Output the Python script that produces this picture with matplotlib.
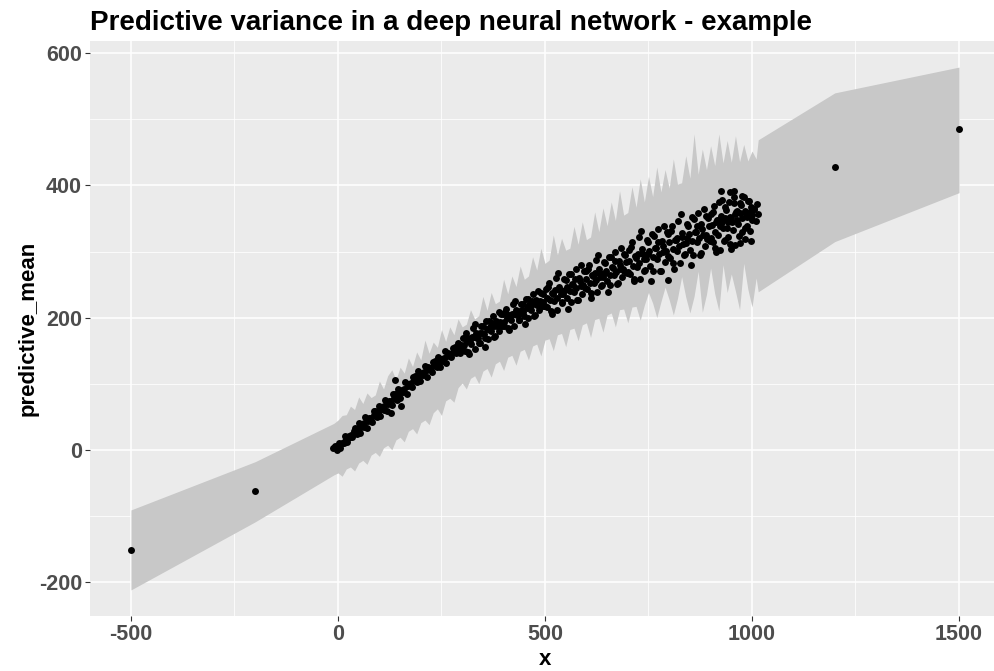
import numpy as np
import matplotlib
matplotlib.use("Agg")
import matplotlib.pyplot as plt

plt.rcParams['font.family'] = ['Liberation Sans', 'DejaVu Sans']
plt.rcParams['axes.unicode_minus'] = False

# ribbon (lower / upper bound of the prediction)
band_x = [-500, -200,
          -10, 0, 10, 20, 30, 40, 50, 60, 70, 80, 90, 100, 110, 120, 130, 140, 150, 160, 170, 180, 190,
          200, 210, 220, 230, 240, 250, 260, 270, 280, 290, 300, 310, 320, 330, 340, 350, 360, 370, 380, 390,
          400, 410, 420, 430, 440, 450, 460, 470, 480, 490, 500, 510, 520, 530, 540, 550, 560, 570, 580, 590,
          600, 610, 620, 630, 640, 650, 660, 670, 680, 690, 700, 710, 720, 730, 740, 750, 760, 770, 780, 790,
          800, 810, 820, 830, 840, 850, 860, 870, 880, 890, 900, 910, 920, 930, 940, 950, 960, 970, 980, 990,
          1000, 1010, 1015, 1200, 1500]
band_hi = [-91, -18,
           40, 45, 52, 53, 66, 61, 80, 70, 86, 79, 83, 104, 92, 112, 121, 106, 125, 116, 139, 126, 148,
           136, 166, 146, 163, 155, 182, 164, 186, 174, 198, 186, 190, 212, 198, 203, 232, 211, 238, 221, 225,
           258, 236, 263, 247, 278, 258, 263, 292, 272, 305, 282, 287, 325, 295, 320, 302, 305, 338, 311, 345,
           318, 322, 360, 330, 366, 339, 375, 347, 392, 355, 359, 398, 367, 410, 375, 414, 383, 428, 390, 424,
           396, 440, 402, 404, 445, 411, 478, 417, 455, 424, 460, 430, 478, 434, 468, 435, 475, 436, 462, 437,
           452, 440, 469, 540, 579]
band_lo = [-212, -109,
           -38, -35, -40, -29, -26, -32, -20, -16, -22, -8, -4, -10, 3, 7, 0, 15, 19, 12, 28, 32, 24,
           41, 45, 38, 56, 62, 52, 74, 78, 72, 94, 101, 92, 108, 112, 100, 119, 123, 110, 130, 134,
           120, 140, 143, 128, 149, 152, 136, 157, 160, 142, 166, 168, 150, 174, 176, 156, 182, 184, 165, 189,
           192, 170, 197, 199, 178, 204, 207, 186, 212, 213, 192, 216, 217, 196, 219, 238, 222, 200, 224, 246,
           227, 204, 229, 262, 231, 207, 232, 270, 208, 235, 275, 236, 210, 280, 238, 266, 240, 212, 282, 243,
           216, 260, 239, 315, 389]

# predictive means
x_pred = [-500, -200, 1200, 1500,
          -12, -7, -3, 2, 6, 10, 14, 18, 22, 26, 30, 34, 38, 42, 46, 50, 54, 58, 62, 66, 70, 74, 78, 82, 86,
          90, 94, 98, 102, 106, 110, 114, 118, 122, 126, 130, 134, 138, 142, 146, 150, 154, 158, 162, 166,
          170, 174, 178, 182, 186, 190, 194, 198, 202, 206, 210, 214, 218, 222, 226, 230, 234, 238, 242, 246,
          250, 254, 258, 262, 266, 270, 274, 278, 282, 286, 290, 294, 298, 128, 138, 152,
          0, 8, 16, 24, 32, 40, 48, 56, 64, 72, 80, 88, 96, 104, 112, 120, 128, 136, 144, 152, 160, 168,
          176, 184, 192, 200, 208, 216, 224, 232, 240, 248, 256, 264, 272, 280, 288, 296,
          302, 306, 310, 314, 318, 322, 326, 330, 334, 338, 342, 346, 350, 354, 358, 362, 366, 370, 374, 378,
          382, 386, 390, 394, 398, 402, 406, 410, 414, 418, 422, 426, 430, 434, 438, 442, 446, 450, 454, 458,
          462, 466, 470, 474, 478, 482, 486, 490, 494, 498,
          304, 312, 320, 328, 336, 344, 352, 360, 368, 376, 384, 392, 400, 408, 416, 424, 432, 440, 448, 456,
          464, 472, 480, 488, 496,
          300, 308, 316, 324, 332, 340, 348, 356, 364, 372, 380, 388, 396, 404, 412, 420, 428, 436, 444, 452,
          460, 468, 476, 484, 492,
          502, 506, 510, 514, 518, 522, 526, 530, 534, 538, 542, 546, 550, 554, 558, 562, 566, 570, 574, 578,
          582, 586, 590, 594, 598, 602, 606, 610, 614, 618, 622, 626, 630, 634, 638, 642, 646, 650, 654, 658,
          662, 666, 670, 674, 678, 682, 686, 690, 694, 698,
          504, 512, 520, 528, 536, 544, 552, 560, 568, 576, 584, 592, 600, 608, 616, 624, 632, 640, 648, 656,
          664, 672, 680, 688, 696,
          500, 508, 516, 524, 532, 540, 548, 556, 564, 572, 580, 588, 596, 604, 612, 620, 628, 636, 644, 652,
          660, 668, 676, 684, 692,
          702, 706, 710, 714, 718, 722, 726, 730, 734, 738, 742, 746, 750, 754, 758, 762, 766, 770, 774, 778,
          782, 786, 790, 794, 798, 802, 806, 810, 814, 818, 822, 826, 830, 834, 838, 842, 846, 850, 854, 858,
          862, 866, 870, 874, 878, 882, 886, 890, 894, 898,
          704, 712, 720, 728, 736, 744, 752, 760, 768, 776, 784, 792, 800, 808, 816, 824, 832, 840, 848, 856,
          864, 872, 880, 888, 896, 797,
          700, 708, 716, 724, 732, 740, 748, 756, 764, 772, 780, 788, 796, 804, 812, 820, 828, 836, 844, 852,
          860, 868, 876, 884, 892,
          902, 905, 908, 911, 914, 917, 920, 923, 926, 929, 932, 935, 938, 941, 944, 947, 950, 953, 956, 959,
          962, 965, 968, 971, 974, 977, 980, 983, 986, 989, 992, 995, 998, 1001, 1005, 1010, 1015,
          904, 910, 916, 922, 928, 934, 940, 946, 952, 958, 964, 970, 976, 982, 988, 994, 1000,
          900, 907, 914, 921, 928, 935, 942, 949, 956, 963, 970, 977, 984, 991, 998, 1005, 1012,
          925, 948, 957]
y_pred = [-152, -63, 428, 486,
          2, 5, 0, 11, 3, 11, 10, 21, 12, 21, 20, 19, 29, 33, 24, 40, 26, 38, 35, 50, 33, 48, 45, 42, 58,
          59, 50, 66, 51, 63, 60, 76, 59, 74, 71, 68, 84, 85, 76, 92, 78, 90, 87, 102, 85,
          100, 98, 95, 110, 111, 102, 119, 104, 116, 113, 127, 110, 125, 122, 118, 133, 134, 125, 140, 125,
          137, 134, 149, 131, 146, 143, 140, 154, 155, 146, 162, 146, 158, 56, 106, 66,
          6, 8, 14, 18, 22, 26, 31, 35, 40, 43, 48, 52, 56, 61, 66, 70, 74, 79, 83, 88, 92, 96,
          101, 105, 108, 113, 117, 121, 124, 128, 131, 135, 139, 142, 145, 149, 152, 155,
          169, 150, 177, 148, 168, 160, 185, 152, 177, 169, 162, 187, 187, 169, 195, 167, 186, 179, 203, 171,
          195, 188, 180, 206, 205, 187, 213, 184, 204, 196, 220, 187, 212, 204, 196, 221, 221, 202, 228, 200,
          219, 211, 235, 203, 227, 219, 212, 237, 236, 217,
          158, 164, 163, 170, 169, 176, 175, 182, 181, 188, 187, 194, 193, 200, 199, 205, 204, 210, 208, 215,
          214, 220, 219, 225, 224,
          151, 172, 145, 171, 190, 161, 177, 156, 195, 192, 172, 208, 187, 208, 181, 206, 225, 196, 211, 190,
          228, 225, 204, 240, 218,
          244, 216, 253, 210, 237, 225, 260, 212, 247, 235, 223, 258, 257, 229, 266, 223, 251, 239, 274, 226,
          260, 248, 236, 271, 270, 243, 280, 237, 264, 252, 287, 239, 273, 261, 249, 284, 283, 255, 292, 249,
          276, 264, 299, 251, 285, 273, 261, 296, 295, 268,
          230, 226, 236, 230, 241, 236, 246, 240, 250, 245, 255, 249, 259, 253, 263, 257, 267, 261, 271, 265,
          275, 269, 280, 273, 284,
          218, 247, 205, 241, 268, 222, 242, 213, 266, 259, 226, 279, 245, 274, 230, 267, 294, 248, 268, 239,
          292, 285, 252, 305, 270,
          302, 266, 315, 258, 293, 277, 322, 258, 304, 288, 272, 317, 314, 278, 327, 270, 305, 289, 334, 270,
          316, 300, 284, 329, 326, 290, 339, 282, 317, 301, 346, 282, 328, 312, 296, 341, 338, 303, 352, 295,
          330, 314, 359, 295, 341, 325, 309, 354, 351, 316,
          285, 278, 290, 283, 296, 288, 301, 292, 305, 296, 309, 301, 314, 304, 318, 308, 322, 313, 327, 316,
          330, 320, 334, 325, 338, 257,
          269, 307, 255, 296, 331, 270, 296, 255, 324, 314, 271, 339, 293, 331, 273, 320, 356, 295, 321, 280,
          349, 339, 297, 365, 319,
          356, 315, 369, 305, 344, 325, 375, 303, 353, 335, 316, 367, 363, 322, 375, 312, 351, 332, 382, 310,
          360, 341, 323, 374, 370, 329, 382, 319, 357, 339, 376, 331, 367, 348, 364, 346, 356,
          340, 330, 348, 338, 344, 350, 336, 352, 345, 356, 347, 358, 350, 362, 352, 360, 355,
          320, 360, 300, 347, 378, 317, 344, 304, 374, 362, 313, 384, 336, 376, 316, 364, 372,
          392, 390, 392]

x_ticks = [-500, 0, 500, 1000, 1500]
y_ticks = [-200, 0, 200, 400, 600]

fig = plt.figure(figsize=(9.94, 6.71), dpi=100)
ax = fig.add_axes([89.6 / 994, 55 / 671, 910.8 / 994, 575 / 671])
ax.set_facecolor('#EBEBEB')
for s in ax.spines.values():
    s.set_visible(False)

ax.fill_between(band_x, band_lo, band_hi, color='#C8C8C8', lw=0, zorder=2)
ax.scatter(x_pred, y_pred, s=25, color='black', linewidths=0, zorder=3)

ax.set_xlim(-600, 1600)
ax.set_ylim(-251.5, 618.5)
ax.set_xticks(x_ticks)
ax.set_yticks(y_ticks)
ax.set_xticks([-250, 250, 750, 1250], minor=True)
ax.set_yticks([-100, 100, 300, 500], minor=True)
ax.grid(True, which='major', color='white', lw=1.1, zorder=0)
ax.grid(True, which='minor', color='white', lw=0.55, zorder=0)
ax.set_axisbelow(True)
ax.tick_params(which='major', length=3.5, width=0.8, color='#333333',
               labelcolor='#4D4D4D', labelsize=15.5, pad=2)
ax.tick_params(which='minor', length=0)
for lab in ax.get_xticklabels() + ax.get_yticklabels():
    lab.set_fontweight('bold')

ax.set_xlabel('x', fontsize=16, fontweight='bold', labelpad=3)
ax.set_ylabel('predictive_mean', fontsize=16, fontweight='bold', labelpad=0)
ax.set_title('Predictive variance in a deep neural network - example',
             fontsize=20, fontweight='bold', loc='left', pad=8)

fig.savefig('out.png', dpi=100)
